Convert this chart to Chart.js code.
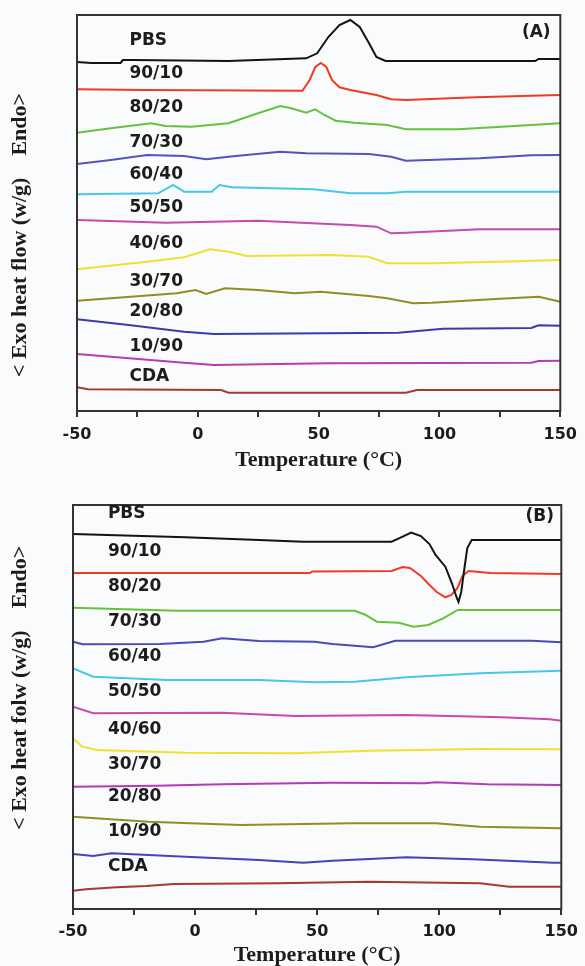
<!DOCTYPE html>
<html><head><meta charset="utf-8">
<script src="https://cdn.jsdelivr.net/npm/chart.js@4.4.1/dist/chart.umd.min.js"></script>
<style>
html,body{margin:0;padding:0;background:#fafbfd;width:585px;height:966px;overflow:hidden;}
.wrap{position:absolute;left:0;width:585px;height:483px;}
canvas{display:block;}
</style></head><body>
<div class="wrap" style="top:0"><canvas id="cA" width="585" height="483"></canvas></div>
<div class="wrap" style="top:483px"><canvas id="cB" width="585" height="483"></canvas></div>
<script>
// ---- data (temperature °C, heat flow in arbitrary stacked units) ----
const seriesNames = ['PBS','90/10','80/20','70/30','60/40','50/50','40/60','30/70','20/80','10/90','CDA'];
const xTickLabels = [-50, 0, 50, 100, 150];

// Panel (A)
const A_PBS   = [[-50,350],[-44,349],[-32,349],[-31,352],[-27,352],[12.7,351],[44.8,353.7],[49.4,358.7],[54,375],[58.6,387],[63.1,392],[67,385],[70.8,369],[73.9,355],[77.7,351],[139.6,351],[141,353],[150,353]];
const A_90_10 = [[-50,322.7],[-22.5,322],[43.3,321.3],[46.3,332],[48.6,345],[50.9,349],[53.2,345],[55.5,332],[58.6,324.7],[63.1,322],[73.9,317],[80,312.7],[86.1,312],[115,314.7],[138,316.3],[150,317]];
const A_80_20 = [[-50,279.3],[-36,283.7],[-19.4,288.7],[-13.3,286],[-2.6,285.3],[12.7,288.7],[24.9,298.7],[34.1,306],[38.7,303.7],[44.8,299.3],[48.6,302.7],[52.4,297],[57,291.3],[64.7,289.3],[78.4,287],[86.1,282.7],[107.5,282.7],[125.8,285.3],[150,288.7]];
const A_70_30 = [[-50,248],[-36,252],[-21,257],[-5.7,256],[3.5,252.7],[15.7,256],[34.1,260.3],[44.8,258.7],[70.8,258],[80,255.3],[86.1,251.3],[116.7,253.7],[138,256.7],[150,257]];
const A_60_40 = [[-50,217.7],[-16.4,218.7],[-10.2,227],[-5.7,220.3],[5.8,220.3],[8.9,227],[14.2,224.7],[47.9,222.7],[63.1,218.7],[78.4,218.7],[86.1,220.3],[150,220.3]];
const A_50_50 = [[-50,192],[-13.3,189.3],[24.9,191.3],[63.1,187],[73.9,185.3],[80,178.7],[86.1,179.3],[116.7,182.7],[150,182.7]];
const A_40_60 = [[-50,142.7],[-21,150.3],[-5.7,154.7],[5,162.7],[12.7,160.3],[20.3,156],[55.5,157],[70.8,155.3],[78.4,148.7],[96.8,148.7],[124.3,150.3],[150,152]];
const A_30_70 = [[-50,111.3],[-36,113.7],[-8.7,118.7],[-1,122],[3.5,118],[11.2,123.7],[24.9,122],[40.2,118.7],[50.9,120.3],[70.8,116],[78.4,113.7],[89.1,108.7],[96.8,109.3],[121.3,112.7],[141.1,115.3],[150,110.3]];
const A_20_80 = [[-50,92.7],[-28.6,87],[-5.7,80.3],[6.6,78],[83,79.3],[101.4,83.3],[138,84],[141,86.7],[150,86.3]];
const A_10_90 = [[-50,58],[-36,55.3],[-5.7,49.3],[6.6,47],[54,48.7],[138,49.3],[141,51],[150,51.3]];
const A_CDA   = [[-50,24.7],[-45.4,22.7],[9.6,22],[12.7,19.3],[86.1,19.3],[90.7,22],[150,22]];

// Panel (B)
const B_PBS   = [[-50,376],[-4,372.7],[26.2,370],[44.3,368.3],[80.5,368.3],[83.5,371.7],[88.5,377.5],[92.5,374],[96,366],[98.5,355],[102.5,343.3],[105.2,326.7],[107.2,312],[107.9,308],[109,318],[110.5,345],[111.5,362],[113.3,370],[150,370]];
const B_90_10 = [[-50,337],[47,337],[48,338.5],[80.5,339],[85,343],[88,342],[92.5,334],[96,325],[99,318],[102.5,312.7],[105,315],[107.5,322],[109.5,334],[112,339],[121,337],[150,336]];
const B_80_20 = [[-50,302.3],[-7,299.3],[65.4,299.3],[69.9,295],[74.4,288.3],[83.5,287.3],[89.5,283.3],[95.5,285],[101.6,291.7],[107.6,300],[150,300]];
const B_70_30 = [[-50,268.3],[-46,265.7],[-14.6,266],[3.5,268.3],[11.1,271.7],[26.2,269],[48.8,268.3],[56.3,266],[72.9,262.7],[82,269.3],[137.8,269.3],[150,267.7]];
const B_60_40 = [[-50,241.7],[-41.7,233.3],[-11.5,230],[26.2,230],[48.8,227.7],[65.4,228.3],[86.5,232.7],[116.7,236.7],[150,239.3]];
const B_50_50 = [[-50,203.3],[-41.7,196.7],[11.1,197.3],[41.3,194],[86.5,195],[125.7,192.7],[145.3,190.7],[150,189.3]];
const B_40_60 = [[-50,171.7],[-46.2,163.3],[-40.2,160],[-4,157.3],[41.3,156.7],[71.4,159.3],[116.7,161],[150,160.7]];
const B_30_70 = [[-50,123.3],[-16.1,124.3],[11.1,125.7],[56.3,127.3],[94,126.7],[98.6,127.7],[119.7,125.7],[150,125]];
const B_20_80 = [[-50,93.3],[-19.1,88.3],[18.6,85],[63.9,86.7],[98.6,86.7],[116.7,83.3],[150,81.7]];
const B_10_90 = [[-50,56],[-41.7,54],[-34.2,56.7],[-4,53.3],[26.2,50],[44.3,47.3],[56.3,49.3],[86.5,52.7],[113.6,50.7],[146.8,47.3],[150,47.3]];
const B_CDA   = [[-50,19.3],[-44.7,20.7],[-32.2,22.7],[-20,24],[-8.7,26],[33.7,26.7],[71.4,28.3],[116.7,26.7],[128.7,23.3],[150,23.3]];

// label anchors (temperature, level) for the curve names
const A_labelT = -28.3;
const A_labelLevels = [371,338.5,304.5,269,237,204,168,130,100,65,35];
const B_labelT = -35.7;
const B_labelLevels = [396.7,358.3,323.3,288.3,253.3,218.3,180,145,113.3,78.3,43.3];

// ---- styles ----
const colorsA = ['#141414','#f23a22','#66c23e','#5353bb','#45c8e6','#c44cae','#f0e12e','#8f8f26','#3a3aa8','#b43cb4','#a83a2c'];
const colorsB = ['#141414','#f23a22','#66c23e','#4a4ab4','#45c8e6','#c44cae','#f0e12e','#b43cb4','#8f8f26','#4444b4','#a83a2c'];

const framePlugin = {
  id: 'frame',
  afterDraw(chart) {
    const {ctx, chartArea: a} = chart;
    ctx.save();
    ctx.strokeStyle = '#333';
    ctx.lineWidth = 2;
    ctx.strokeRect(a.left, a.top, a.right - a.left, a.bottom - a.top);
    ctx.restore();
  }
};
const namePlugin = {
  id: 'names',
  afterDraw(chart, args, opts) {
    const {ctx} = chart;
    const xs = chart.scales.x, ys = chart.scales.y;
    ctx.save();
    ctx.fillStyle = '#1c1c1c';
    ctx.font = 'bold 17px "DejaVu Sans"';
    ctx.textBaseline = 'middle';
    ctx.textAlign = 'left';
    opts.items.forEach(it => {
      ctx.fillText(it.text, xs.getPixelForValue(it.x), ys.getPixelForValue(it.y));
    });
    ctx.textAlign = 'right';
    ctx.fillText(opts.tag.text, xs.getPixelForValue(opts.tag.x), ys.getPixelForValue(opts.tag.y));
    ctx.restore();
  }
};

function makeChart(id, series, colors, g, labelT, labelLevels, yTitle, tag) {
  const datasets = series.map((s, i) => ({
    label: seriesNames[i],
    data: s.map(p => ({x: p[0], y: p[1]})),
    borderColor: colors[i],
    borderWidth: 2,
    pointRadius: 0,
    tension: 0,
    fill: false
  }));
  const items = seriesNames.map((n, i) => ({text: n, x: labelT, y: labelLevels[i]}));
  return new Chart(document.getElementById(id), {
    type: 'line',
    data: {datasets},
    options: {
      responsive: false,
      animation: false,
      devicePixelRatio: 1,
      layout: {padding: {left: 0, right: 585 - g.right, top: g.top, bottom: 0}},
      plugins: {
        legend: {display: false},
        tooltip: {enabled: false},
        names: {items, tag}
      },
      scales: {
        x: {
          type: 'linear', min: -50, max: 150,
          afterFit(s) { s.height = 483 - g.bottom; },
          ticks: {
            stepSize: 25, color: '#1c1c1c', padding: g.tickPad,
            font: {family: '"DejaVu Sans"', size: 16, weight: 'bold'},
            callback: v => (xTickLabels.includes(v) ? String(v) : ''),
            maxRotation: 0, autoSkip: false
          },
          grid: {drawOnChartArea: false, drawTicks: true, tickLength: 6, color: '#333', lineWidth: 2},
          border: {display: false},
          title: {
            display: true, text: 'Temperature (°C)', color: '#1c1c1c',
            font: {family: '"Liberation Serif"', size: 22, weight: 'bold', lineHeight: g.titleLH},
            padding: {top: 0, bottom: g.titlePad}
          }
        },
        y: {
          type: 'linear', min: g.yMin, max: g.yMax,
          afterFit(s) { s.width = g.left; },
          ticks: {display: false},
          grid: {display: false},
          border: {display: false},
          title: {
            display: true, text: yTitle, color: '#1c1c1c',
            font: {family: '"Liberation Serif"', size: 22, weight: 'bold', lineHeight: 1.1},
            padding: {top: 8, bottom: 0}
          }
        }
      }
    },
    plugins: [framePlugin, namePlugin]
  });
}

makeChart('cA',
  [A_PBS, A_90_10, A_80_20, A_70_30, A_60_40, A_50_50, A_40_60, A_30_70, A_20_80, A_10_90, A_CDA],
  colorsA,
  {left: 77, right: 567, top: 15, bottom: 411, tickPad: 8, titlePad: 9, titleLH: 1.2, yMin: 1, yMax: 397},
  A_labelT, A_labelLevels,
  '< Exo heat flow (w/g)    Endo>        ',
  {text: '(A)', x: 146, y: 379});

makeChart('cB',
  [B_PBS, B_90_10, B_80_20, B_70_30, B_60_40, B_50_50, B_40_60, B_30_70, B_20_80, B_10_90, B_CDA],
  colorsB,
  {left: 73, right: 567, top: 22, bottom: 426, tickPad: 7, titlePad: 0, titleLH: 1.0, yMin: 1, yMax: 405},
  B_labelT, B_labelLevels,
  '       < Exo heat folw (w/g)    Endo>',
  {text: '(B)', x: 147, y: 393});
</script>
</body></html>
